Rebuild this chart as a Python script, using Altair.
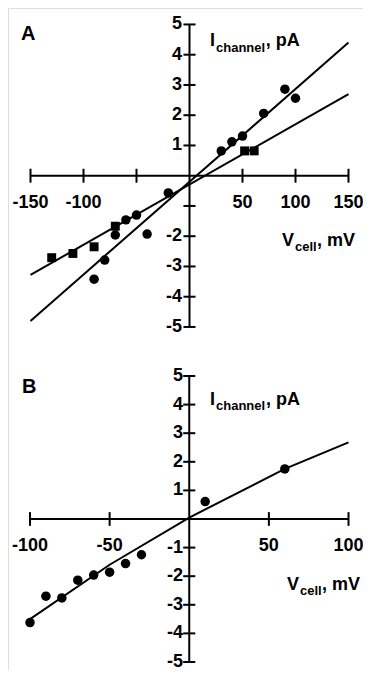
import altair as alt
import pandas as pd

FONT = "Liberation Sans"

# ---------------- Panel A data ----------------
a_circle_v = [30, 40, 50, 70, 90, 100, -20, -40, -50, -60, -70, -80, -90]
a_circle_i = [0.82, 1.12, 1.31, 2.06, 2.86, 2.56, -0.57, -1.93, -1.30, -1.46, -1.96, -2.79, -3.42]
a_square_v = [-130, -110, -90, -70, 52, 61]
a_square_i = [-2.71, -2.57, -2.35, -1.67, 0.82, 0.82]
a_fit_steep_v = [-150, 150]
a_fit_steep_i = [-4.8, 4.4]
a_fit_flat_v = [-150, 150]
a_fit_flat_i = [-3.28, 2.70]
a_xtick_vals = [-150, -100, -50, 50, 100, 150]
a_xlabel_vals = [-150, -100, 50, 100, 150]
a_ytick_vals = [-5, -4, -3, -2, -1, 1, 2, 3, 4, 5]
a_ylabel_vals = [5, 4, 3, 2, 1, -2, -3, -4, -5]

# ---------------- Panel B data ----------------
b_circle_v = [-100, -90, -80, -70, -60, -50, -40, -30, 10, 60]
b_circle_i = [-3.62, -2.70, -2.76, -2.14, -1.96, -1.86, -1.56, -1.25, 0.61, 1.75]
b_fit_v = [-100, -50, 0, 60, 100]
b_fit_i = [-3.50, -1.60, 0.05, 1.75, 2.68]
b_xtick_vals = [-100, -50, 50, 100]
b_xlabel_vals = [-100, -50, 50, 100]
b_ytick_vals = [-5, -4, -3, -2, -1, 1, 2, 3, 4, 5]
b_ylabel_vals = [5, 4, 3, 2, 1, -1, -2, -3, -4, -5]

W = 355
H = 662


def panel(letter, xdom, ydom, xr, circ_v, circ_i, sq_v, sq_i, fits,
          xticks, xlabels, yticks, ylabels, ytick_half, xtick_half, ylab_off,
          xlab_y, letter_pos, titles):
    xs = alt.Scale(domain=xdom, nice=False, zero=False)
    ys = alt.Scale(domain=ydom, nice=False, zero=False)
    X = lambda f: alt.X(f, type="quantitative", scale=xs, axis=None)
    Y = lambda f: alt.Y(f, type="quantitative", scale=ys, axis=None)

    # axis lines and ticks
    rows = [dict(v=-xr, v2=xr, i=0, i2=0), dict(v=0, v2=0, i=-5, i2=5)]
    for t in xticks:
        rows.append(dict(v=t, v2=t, i=-xtick_half, i2=xtick_half))
    for t in yticks:
        rows.append(dict(v=-ytick_half, v2=ytick_half, i=t, i2=t))
    rules = alt.Chart(pd.DataFrame(rows)).mark_rule(
        color="black", strokeWidth=2, strokeCap="butt"
    ).encode(x=X("v"), x2="v2", y=Y("i"), y2="i2")

    layers = [rules]

    # fit lines
    frows = []
    for k, (fv, fi) in enumerate(fits):
        for v, i in zip(fv, fi):
            frows.append(dict(v=v, i=i, s=k))
    layers.append(alt.Chart(pd.DataFrame(frows)).mark_line(
        color="black", strokeWidth=2).encode(x=X("v"), y=Y("i"), detail="s:N"))

    # points
    layers.append(alt.Chart(pd.DataFrame(dict(v=circ_v, i=circ_i))).mark_point(
        filled=True, shape="circle", size=90, color="black", opacity=1
    ).encode(x=X("v"), y=Y("i")))
    if sq_v:
        layers.append(alt.Chart(pd.DataFrame(dict(v=sq_v, i=sq_i))).mark_point(
            filled=True, shape="square", size=80, color="black", opacity=1
        ).encode(x=X("v"), y=Y("i")))

    # tick labels
    layers.append(alt.Chart(pd.DataFrame(dict(
        v=xlabels, i=[xlab_y] * len(xlabels), t=[str(x) for x in xlabels]))
    ).mark_text(font=FONT, fontWeight="bold", fontSize=18, align="center",
                baseline="alphabetic", color="black"
    ).encode(x=X("v"), y=Y("i"), text="t:N"))
    layers.append(alt.Chart(pd.DataFrame(dict(
        v=[ylab_off] * len(ylabels), i=ylabels, t=[str(x) for x in ylabels]))
    ).mark_text(font=FONT, fontWeight="bold", fontSize=18, align="right",
                baseline="middle", color="black"
    ).encode(x=X("v"), y=Y("i"), text="t:N"))

    # titles: list of (v, i, text, size)
    trows = [dict(v=letter_pos[0], i=letter_pos[1], t=letter, s=20)]
    trows += [dict(v=v, i=i, t=t, s=s) for (v, i, t, s) in titles]
    layers.append(alt.Chart(pd.DataFrame(trows)).mark_text(
        font=FONT, fontWeight="bold", align="left", baseline="alphabetic",
        color="black"
    ).encode(x=X("v"), y=Y("i"), text="t:N",
             size=alt.Size("s:Q", scale=None, legend=None)))

    return alt.layer(*layers)


a_titles = [(19.3, 4.29, "I", 18), (25.0, 4.09, "channel", 13), (72.0, 4.29, ", pA", 18),
            (87.3, -2.32, "V", 18), (99.5, -2.49, "cell", 13), (120.3, -2.32, ", mV", 18)]
b_titles = [(13.0, 3.99, "I", 18), (16.8, 3.81, "channel", 13), (48.2, 3.99, ", pA", 18),
            (61.4, -2.48, "V", 18), (69.5, -2.66, "cell", 13), (83.3, -2.48, ", mV", 18)]

pa = panel("A", [-171.23, 163.68], [-16.34, 5.544], 150,
           a_circle_v, a_circle_i, a_square_v, a_square_i,
           [(a_fit_steep_v, a_fit_steep_i), (a_fit_flat_v, a_fit_flat_i)],
           a_xtick_vals, a_xlabel_vals, a_ytick_vals, a_ylabel_vals,
           5.7, 0.23, -7.1, -1.08, (-159.0, 4.49), a_titles)

pb = panel("B", [-113.81, 109.1], [-5.28, 17.867], 100,
           b_circle_v, b_circle_i, [], [],
           [(b_fit_v, b_fit_i)],
           b_xtick_vals, b_xlabel_vals, b_ytick_vals, b_ylabel_vals,
           3.8, 0.24, -3.9, -1.11, (-105.0, 4.42), b_titles)

chart = alt.layer(pa, pb).resolve_scale(
    x="independent", y="independent"
).properties(
    width=W, height=H, padding=0, autosize=alt.AutoSizeParams(type="none")
).configure_view(stroke="transparent", strokeWidth=0).configure(background="white")

chart.save("out.html", embed_options={"renderer": "svg", "actions": False})
